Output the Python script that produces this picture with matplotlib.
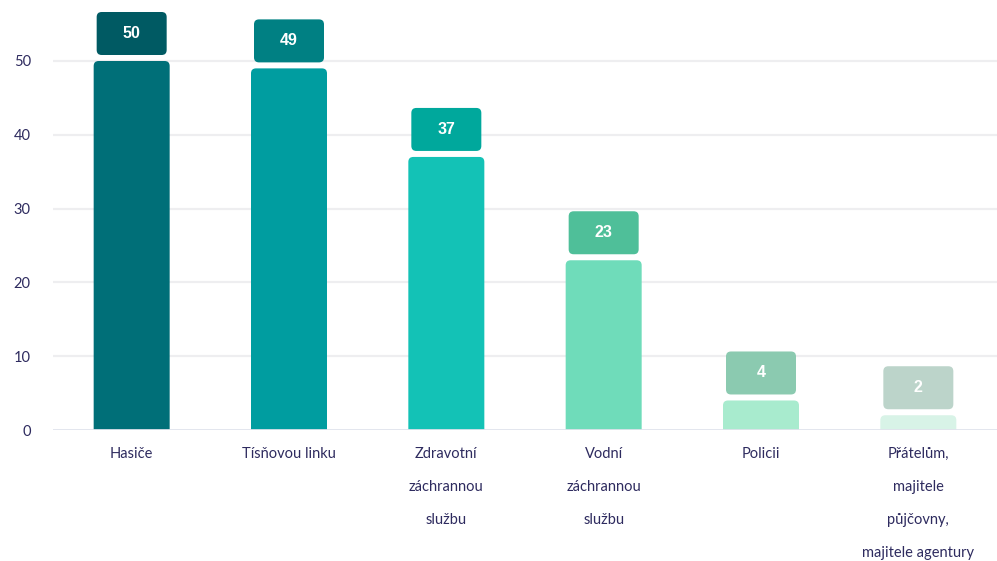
import matplotlib
matplotlib.use("Agg")
import matplotlib.pyplot as plt
from matplotlib.patches import FancyBboxPatch

categories = ["Hasiče", "Tísňovou linku", "Zdravotní\nzáchrannou\nslužbu",
              "Vodní\nzáchrannou\nslužbu", "Policii",
              "Přátelům,\nmajitele\npůjčovny,\nmajitele agentury"]
values = [50, 49, 37, 23, 4, 2]
bar_colors = ["#006F78", "#009DA0", "#13C2B6", "#6FDCBA", "#A8EBCE", "#D8F3E7"]
box_colors = ["#005A63", "#008083", "#00A89C", "#4FBF99", "#8BCAB0", "#BCD4CA"]
yticks = [0, 10, 20, 30, 40, 50]

W, H = 997, 561
fig = plt.figure(figsize=(W / 100, H / 100), dpi=100)
ax = fig.add_axes([53 / W, 131 / H, 944 / W, 430 / H])

ymax = 430 / 7.38
ax.set_ylim(0, ymax)
ax.set_xlim(-0.5, len(values) - 0.5)

px_x = 944 / len(values)   # px per x unit
px_y = 7.38                # px per y unit

for v in yticks[1:]:
    ax.axhline(v, color="#EEEEF0", lw=1.6, zorder=0)
ax.axhline(0, color="#E0E3EC", lw=2, zorder=3)

bars = ax.bar(range(len(values)), values, width=76 / px_x, color=bar_colors)
aspect = px_x / px_y
for b, c in zip(bars, bar_colors):
    b.set_visible(False)
    x0, y0, w, h = b.get_x(), b.get_y(), b.get_width(), b.get_height()
    r = 5 / px_x
    p = FancyBboxPatch((x0, y0 - 1), w, h + 1,
                       boxstyle=f"round,pad=0,rounding_size={r}",
                       mutation_aspect=aspect, fc=c, ec="none", zorder=2)
    ax.add_patch(p)

bw, bh, gap = 70 / px_x, 43 / px_y, 6 / px_y
for i, (v, c) in enumerate(zip(values, box_colors)):
    p = FancyBboxPatch((i - bw / 2, v + gap), bw, bh,
                       boxstyle=f"round,pad=0,rounding_size={5 / px_x}",
                       mutation_aspect=aspect, fc=c, ec="none",
                       zorder=4, clip_on=False)
    ax.add_patch(p)
    ax.text(i, v + gap + bh / 2, str(v), ha="center", va="center",
            color="white", fontsize=11.5, fontweight="bold",
            family="Liberation Sans", zorder=5, clip_on=False)

ax.set_yticks(yticks)
ax.set_yticklabels([str(t) for t in yticks])
ax.set_xticks(range(len(values)))
ax.set_xticklabels(categories, linespacing=2.75, va="top")
ax.tick_params(axis="both", length=0, labelsize=10.5, labelcolor="#2E2B5F")
ax.tick_params(axis="y", pad=16)
ax.tick_params(axis="x", pad=12)
for lbl in ax.get_xticklabels() + ax.get_yticklabels():
    lbl.set_family("Lato")
for s in ax.spines.values():
    s.set_visible(False)

fig.savefig("out.png", dpi=100)
